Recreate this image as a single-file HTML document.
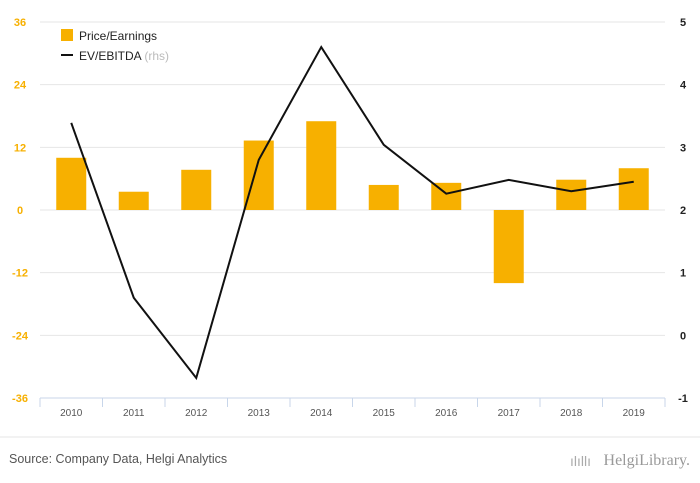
<!DOCTYPE html>
<html><head><meta charset="utf-8"><style>
body{margin:0;background:#fff;font-family:"Liberation Sans",sans-serif}
svg{display:block}
</style></head><body>
<svg id="c" width="700" height="483">
</svg>
<script>
const categories=['2010','2011','2012','2013','2014','2015','2016','2017','2018','2019'];
const peValues=[10,3.5,7.7,13.3,17,4.8,5.2,-14,5.8,8];
const evValues=[3.39,0.6,-0.68,2.8,4.6,3.04,2.26,2.48,2.3,2.45];
const leftTicks=[36,24,12,0,-12,-24,-36];
const rightTicks=[5,4,3,2,1,0,-1];
const NS='http://www.w3.org/2000/svg';
const svg=document.getElementById('c');
function mk(t,a,txt){const e=document.createElementNS(NS,t);for(const k in a)e.setAttribute(k,a[k]);if(txt!=null)e.textContent=txt;svg.appendChild(e);return e;}
const X0=40,X1=665,T=22,B=398;
const yL=v=>T+(36-v)/72*(B-T);
const yR=v=>T+(5-v)/6*(B-T);
const bw=(X1-X0)/categories.length;
const xc=i=>X0+bw*(i+0.5);
leftTicks.forEach(v=>{
 if(v!==-36){const g=mk('line',{x1:X0,x2:X1,y1:yL(v),y2:yL(v),stroke:'#e6e6e6','stroke-width':1});
 
 }
 const t=mk('text',{x:20,y:yL(v)+4,'text-anchor':'middle','font-size':11,fill:'#f7b000','font-weight':'bold'},v);
 
 
});
rightTicks.forEach(v=>{
 const t=mk('text',{x:683,y:yR(v)+4,'text-anchor':'middle','font-size':11,fill:'#222','font-weight':'bold'},v);
 
 
});
const ax=mk('line',{x1:X0,x2:X1,y1:B,y2:B,stroke:'#c8d6ea'});


for(let i=0;i<=categories.length;i++){
 const tk=mk('line',{x1:X0+bw*i,x2:X0+bw*i,y1:B,y2:B+9,stroke:'#c8d6ea'});
 
 
}
categories.forEach((c,i)=>{
 const t=mk('text',{x:xc(i),y:B+18,'text-anchor':'middle','font-size':10,fill:'#555'},c);
 
 
 const v=peValues[i];
 const r=mk('rect',{x:xc(i)-15,y:Math.min(yL(v),yL(0)),width:30,height:Math.abs(yL(v)-yL(0)),fill:'#f7b000'});
 
 
});
const pts=evValues.map((v,i)=>xc(i)+','+yR(v)).join(' ');
const pl=mk('polyline',{points:pts,fill:'none',stroke:'#111','stroke-width':2});


const l1=mk('rect',{x:61,y:29,width:12,height:12,fill:'#f7b000'});


const t1=mk('text',{x:79,y:40,'font-size':12,fill:'#222'},'Price/Earnings');


const l2=mk('line',{x1:61,x2:73,y1:55,y2:55,stroke:'#111','stroke-width':2});


const t2=mk('text',{x:79,y:60,'font-size':12,fill:'#222'});


t2.innerHTML='EV/EBITDA <tspan fill="#bbb">(rhs)</tspan>';
const sep=mk('line',{x1:0,x2:700,y1:437,y2:437,stroke:'#e6e6e6'});


const src=mk('text',{x:9,y:463,'font-size':12.5,fill:'#555'},'Source: Company Data, Helgi Analytics');


const logo=mk('text',{x:690,y:465,'text-anchor':'end','font-size':16,fill:'#999','font-family':'Liberation Serif, serif'},'HelgiLibrary.');


const ic=mk('text',{x:570,y:466,'font-size':14,fill:'#aaa'},'ılıllı');


</script>
</body></html>
